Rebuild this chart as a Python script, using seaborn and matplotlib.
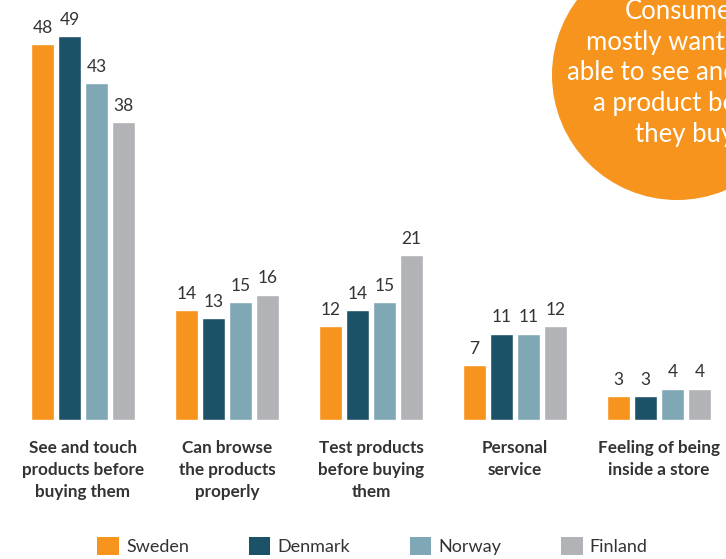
import matplotlib
matplotlib.use("Agg")
import matplotlib.pyplot as plt
from matplotlib.patches import Circle, Patch
import seaborn as sns
import pandas as pd

categories = ["See and touch\nproducts before\nbuying them",
              "Can browse\nthe products\nproperly",
              "Test products\nbefore buying\nthem",
              "Personal\nservice",
              "Feeling of being\ninside a store"]
countries = ["Sweden", "Denmark", "Norway", "Finland"]
sweden = [48, 14, 12, 7, 3]
denmark = [49, 13, 14, 11, 3]
norway = [43, 15, 15, 11, 4]
finland = [38, 16, 21, 12, 4]
colors = ["#F7941D", "#1B5268", "#7FA7B6", "#B2B3B7"]
callout = "Consumers\nmostly want to be\nable to see and touch\na product before\nthey buy."

rows = []
for c, vals in zip(countries, [sweden, denmark, norway, finland]):
    for cat, v in zip(categories, vals):
        rows.append({"category": cat, "country": c, "value": v})
df = pd.DataFrame(rows)

sns.set_theme(style="white")
plt.rcParams["font.family"] = ["Lato", "DejaVu Sans"]
text_color = "#333333"

W, H = 726, 559
fig = plt.figure(figsize=(W / 100, H / 100), dpi=100)
ax = fig.add_axes([0, 139 / H, 1, 1 - 139 / H])
sns.barplot(data=df, x="category", y="value", hue="country", order=categories,
            hue_order=countries, palette=colors, width=0.75, gap=0.15,
            saturation=1, ax=ax, legend=False)
for cont in ax.containers:
    ax.bar_label(cont, padding=6, fontsize=12.5, color=text_color)
ax.set_xlim(-0.576, 4.465)
ax.set_ylim(0, 53.6)
ax.set_xlabel("")
ax.set_ylabel("")
ax.set_yticks([])
for s in ax.spines.values():
    s.set_visible(False)
ax.tick_params(axis="x", length=0, pad=14.5)
for lbl in ax.get_xticklabels():
    lbl.set_fontweight("bold")
    lbl.set_fontsize(12.3)
    lbl.set_color(text_color)
    lbl.set_linespacing(1.45)
    lbl.set_verticalalignment("top")

# callout circle overlay
ov = fig.add_axes([0, 0, 1, 1], zorder=5)
ov.set_xlim(0, W)
ov.set_ylim(H, 0)
ov.axis("off")
ov.add_patch(Circle((677, 75), 125, color=colors[0], lw=0))
ov.text(688, 73, callout, ha="center", va="center", color="white",
        fontsize=18.5, linespacing=1.28)

handles = [Patch(facecolor=c, edgecolor="none", label=n) for c, n in zip(colors, countries)]
fig.legend(handles=handles, loc="center", bbox_to_anchor=(0.513, 1 - 546 / H), ncol=4,
           frameon=False, fontsize=13, handlelength=1.2, handleheight=1.2,
           handletextpad=0.4, columnspacing=3.3, labelcolor=text_color)

fig.savefig("out.png", dpi=100)
